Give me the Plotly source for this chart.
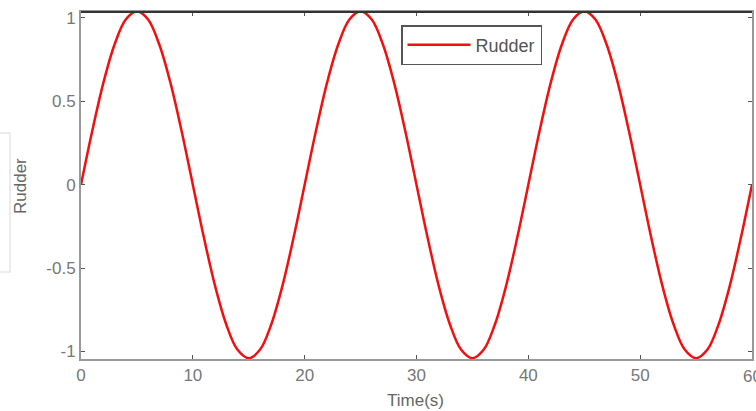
import plotly.graph_objects as go

# Time samples (s) and rudder values (1 s spacing)
time_s = list(range(0, 61))
rudder = [
    0.00, 0.32, 0.61, 0.84, 0.99, 1.04, 0.99, 0.84, 0.61, 0.32,
    0.00, -0.32, -0.61, -0.84, -0.99, -1.04, -0.99, -0.84, -0.61, -0.32,
    0.00, 0.32, 0.61, 0.84, 0.99, 1.04, 0.99, 0.84, 0.61, 0.32,
    0.00, -0.32, -0.61, -0.84, -0.99, -1.04, -0.99, -0.84, -0.61, -0.32,
    0.00, 0.32, 0.61, 0.84, 0.99, 1.04, 0.99, 0.84, 0.61, 0.32,
    0.00, -0.32, -0.61, -0.84, -0.99, -1.04, -0.99, -0.84, -0.61, -0.32,
    0.00,
]
x_ticks = [0, 10, 20, 30, 40, 50, 60]
y_ticks = [-1, -0.5, 0, 0.5, 1]
y_tick_text = ["-1", "-0.5", "0", "0.5", "1"]

W, H = 756, 411
L, R, T, B = 81, 4, 12, 52
PW, PH = W - L - R, H - T - B

def px_x(px):
    return (px - L) / PW

def px_y(py):
    return 1 - (py - T) / PH

fig = go.Figure()
fig.add_trace(go.Scatter(
    x=time_s, y=rudder, mode="lines", name="Rudder",
    line=dict(color="#f01010", width=2.5, shape="spline", smoothing=1.0),
))

font = "Liberation Sans, Arial, sans-serif"
fig.update_layout(
    width=W, height=H,
    margin=dict(l=L, r=R, t=T, b=B, autoexpand=False),
    paper_bgcolor="white", plot_bgcolor="white",
    font=dict(family=font, size=17, color="#666"),
    showlegend=True,
    legend=dict(
        x=px_x(401), y=px_y(25), xanchor="left", yanchor="top",
        bgcolor="white", bordercolor="#555", borderwidth=1.5,
        font=dict(family=font, size=18, color="#555"),
        itemwidth=63,
    ),
    xaxis=dict(
        range=[0, 60], tickvals=x_ticks, ticks="inside", ticklen=4,
        tickcolor="#555", showline=True, linecolor="#999", linewidth=2,
        mirror="ticks", showgrid=False, zeroline=False, automargin=False,
        tickfont=dict(size=17, color="#777"),
    ),
    yaxis=dict(
        range=[-1.045, 1.035], tickvals=y_ticks, ticktext=y_tick_text,
        ticks="inside", ticklen=4, tickcolor="#555",
        showline=True, linecolor="#999", linewidth=2, mirror="ticks",
        showgrid=False, zeroline=False, automargin=False,
        tickfont=dict(size=17, color="#777"),
    ),
    annotations=[
        dict(text="Time(s)", xref="paper", yref="paper", x=px_x(415), y=px_y(400),
             showarrow=False, font=dict(size=17, color="#666"),
             xanchor="center", yanchor="middle"),
        dict(text="Rudder", xref="paper", yref="paper", x=px_x(20), y=px_y(186),
             showarrow=False, textangle=-90, font=dict(size=17, color="#666"),
             xanchor="center", yanchor="middle"),
        # last x tick label, partly cut by the window edge as in the reference
        dict(text=str(x_ticks[-1]), xref="x", yref="paper", x=x_ticks[-1], y=px_y(376),
             showarrow=False, font=dict(size=17, color="#777"),
             xanchor="center", yanchor="middle"),
    ],
)
# darker top border as in the reference
fig.add_shape(type="line", xref="paper", yref="paper", x0=0, x1=1, y0=1, y1=1,
              line=dict(color="#333", width=2))
# faint rounded outline at the far left (screenshot artifact in the reference)
x0, x1 = px_x(-20), px_x(10)
y0, y1 = px_y(272), px_y(133)
fig.add_shape(type="rect", xref="paper", yref="paper", x0=x0, x1=x1, y0=y0, y1=y1,
              line=dict(color="#e6e6e6", width=1.5), layer="below")

fig.write_html(
    "out.html",
    config={"displayModeBar": False},
    post_script="document.body.style.margin='0';document.body.style.overflow='hidden';",
)
